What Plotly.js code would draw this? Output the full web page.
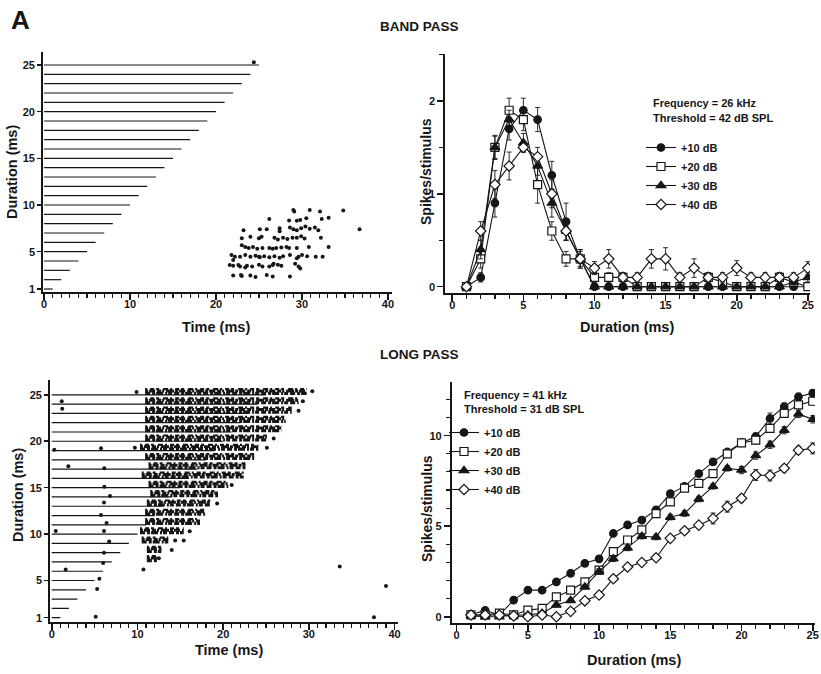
<!DOCTYPE html>
<html>
<head>
<meta charset="utf-8">
<script src="https://cdn.plot.ly/plotly-3.0.1.min.js"></script>
<style>html,body{margin:0;padding:0;background:#fff}#chart{width:821px;height:674px}</style>
</head>
<body>
<div id="chart"></div>
<script>
// ---------- DATA ----------
const durations = [1,2,3,4,5,6,7,8,9,10,11,12,13,14,15,16,17,18,19,20,21,22,23,24,25];
const rasterYTicks = [1,5,10,15,20,25];
const rasterXTicks = [0,10,20,30,40];
const tuningXTicks = [0,5,10,15,20,25];
const bandYTicks = [0,1,2];
const longYTicks = [0,5,10];
const seriesNames = ['+10 dB','+20 dB','+30 dB','+40 dB'];

// Band pass raster (spike time ms, duration row)
const bpSpikeT = [29.0,29.1,30.9,32.1,34.8,
  33.1,32.3,30.5,29.8,29.4,28.5,26.2,
  36.7,27.4,27.4,28.6,29.0,29.4,29.9,30.4,30.9,31.5,31.9,25.9,25.1,23.2,
  23.0,25.0,25.3,26.8,27.2,27.8,28.3,28.9,29.4,29.9,30.3,32.2,24.0,
  23.0,23.4,23.8,24.8,25.4,26.2,26.6,27.0,27.6,28.2,28.5,29.4,30.8,33.1,24.3,
  21.8,22.2,22.8,23.4,24.0,24.6,25.0,25.6,26.2,26.8,27.4,27.8,28.6,29.6,30.0,30.6,31.6,32.4,22.0,29.4,25.1,
  21.6,22.6,22.8,23.6,24.2,25.0,25.4,26.2,26.6,27.2,27.6,29.6,29.8,22.0,23.4,26.7,29.2,
  22.0,23.0,24.0,24.6,25.9,26.6,28.6,22.9,
  24.4];
const bpSpikeD = [9.47,9.3,9.47,9.3,9.4,
  8.64,8.5,8.57,8.4,8.3,8.35,8.5,
  7.4,7.5,7.2,7.6,7.4,7.3,7.5,7.7,7.45,7.6,7.3,7.4,7.4,7.3,
  6.43,6.43,6.6,6.5,6.3,6.5,6.35,6.5,6.5,6.65,6.4,6.5,6.6,
  5.7,5.5,5.4,5.3,5.4,5.4,5.3,5.4,5.45,5.5,5.4,5.4,5.5,5.5,5.5,
  4.64,4.45,4.45,4.64,4.45,4.55,4.45,4.5,4.4,4.5,4.35,4.5,4.64,4.45,4.64,4.5,4.45,4.45,4.1,4.3,4.4,
  3.57,3.57,3.4,3.5,3.4,3.6,3.4,3.4,3.57,3.6,3.5,3.4,3.2,3.5,3.3,3.7,3.7,
  2.45,2.4,2.45,2.3,2.5,2.35,2.35,2.5,
  25.3];

// Long pass raster: dense response bands per duration (start/end ms)
const lpBandDur   = [7,8,9,10,11,12,13,14,15,16,17,18,19,20,21,22,23,24,25];
const lpBandStart = [11.1,11.1,10.5,10.3,10.9,10.9,11.1,11.5,11.3,10.5,11.3,10.9,10.3,10.9,10.9,10.9,10.9,10.9,10.9];
const lpBandEnd   = [12.3,12.8,13.6,15.4,17.3,17.9,18.5,19.4,20.6,22.4,22.6,23.7,24.1,25.1,26.8,27.3,28.0,28.8,29.75];
// Long pass raster: isolated spikes
const lpSpikeT = [9.9,30.4,29.3,28.8,25.9,25.1,9.7,21.0,19.3,16.1,14.4,15.4,14.0,10.7,12.5,
  1.17,1.23,0.3,5.75,1.94,6.14,6.14,6.8,6.1,5.75,6.4,0.47,6.1,6.7,6.1,6.0,1.63,5.56,5.3,5.13,33.6,39.0,37.6];
const lpSpikeD = [25.3,25.4,24.3,23.3,20.3,19.3,19.3,15.3,13.3,10.3,9.3,9.3,8.3,6.2,7.4,
  24.3,23.5,19.1,19.25,17.3,17.1,15.1,14.1,13.4,12.07,11.2,10.34,10.34,9.2,8.0,6.9,6.2,5.2,4.1,1.1,6.5,4.4,1.05];

// Band pass tuning (spikes/stimulus)
const bp10 = [0,0.1,0.9,1.7,1.9,1.8,1.2,0.7,0.3,0,0,0,0,0,0,0,0,0,0,0,0,0,0,0,0];
const bp20 = [0,0.3,1.5,1.9,1.8,1.1,0.6,0.3,0.3,0.1,0.1,0.1,0,0,0,0,0,0.1,0.05,0,0,0,0.1,0.05,0];
const bp30 = [0,0.4,1.5,1.8,1.55,1.3,0.9,0.6,0.3,0,0,0,0,0,0,0,0,0,0,0,0,0,0,0.05,0.1];
const bp40 = [0,0.6,1.1,1.3,1.5,1.4,1.0,0.6,0.3,0.2,0.3,0.1,0.1,0.3,0.3,0.1,0.2,0.1,0.1,0.2,0.1,0.1,0.1,0.1,0.2];
const bp10Err = [0,0.05,0.15,0.12,0.13,0.13,0.15,0.2,0.1,0,0,0,0,0,0,0,0,0,0,0,0,0,0,0,0];
const bp20Err = [0,0.1,0.12,0.13,0.12,0.2,0.1,0.08,0.05,0.05,0.05,0.05,0.03,0.03,0.03,0.03,0.03,0.05,0.05,0.03,0.03,0.03,0.05,0.05,0.03];
const bp30Err = [0,0.1,0.13,0.1,0.1,0.1,0.15,0.1,0.08,0.02,0.02,0.02,0.02,0.02,0.02,0.02,0.02,0.02,0.02,0.02,0.02,0.02,0.02,0.03,0.05];
const bp40Err = [0,0.1,0.15,0.15,0.05,0.1,0.15,0.1,0.1,0.07,0.1,0.05,0.05,0.1,0.12,0.05,0.1,0.05,0.05,0.08,0.05,0.05,0.05,0.05,0.07];

// Long pass tuning (spikes/stimulus)
const lp10 = [0.13,0.35,0.1,0.92,1.47,1.47,1.93,2.4,2.95,3.2,4.6,5.07,5.34,5.9,6.8,7.2,7.9,8.55,9.1,9.6,9.95,10.95,11.6,12.15,12.35];
const lp20 = [0.1,0.1,0.2,0.1,0.37,0.46,1.1,1.47,1.93,2.58,3.6,4.24,4.8,5.7,6.35,7.1,7.37,7.9,9.0,9.6,9.75,10.4,11.23,11.7,11.9];
const lp30 = [0.05,0,0,0.1,0.1,0.2,0.65,0.9,1.65,2.5,3.2,3.8,4.45,4.4,5.5,5.7,6.5,7.2,8.2,8.1,8.9,9.5,10.3,11.2,10.9];
const lp40 = [0.1,0.1,0.1,0.05,0.0,0.1,0.0,0.3,0.88,1.2,2.1,2.75,3.0,3.26,4.33,4.75,5.06,5.43,6.08,6.54,7.83,7.8,8.2,9.2,9.3];
const lp10Err = [0.1,0.1,0.1,0.1,0.1,0.1,0.1,0.1,0.1,0.15,0.15,0.15,0.15,0.15,0.15,0.15,0.15,0.15,0.15,0.2,0.2,0.3,0.2,0.2,0.2];
const lp20Err = [0.1,0.1,0.1,0.1,0.1,0.1,0.1,0.1,0.1,0.15,0.15,0.15,0.15,0.15,0.15,0.15,0.15,0.15,0.15,0.2,0.2,0.2,0.2,0.2,0.2];
const lp30Err = [0.1,0.1,0.1,0.1,0.1,0.1,0.1,0.1,0.1,0.15,0.15,0.15,0.15,0.15,0.15,0.15,0.15,0.15,0.15,0.2,0.2,0.2,0.2,0.2,0.2];
const lp40Err = [0.1,0.1,0.1,0.1,0.1,0.1,0.1,0.1,0.1,0.15,0.15,0.15,0.15,0.15,0.15,0.15,0.15,0.3,0.3,0.2,0.3,0.3,0.2,0.2,0.3];

// ---------- STYLE ----------
const INK = '#161616';
const FONT = 'Liberation Sans, Arial, Helvetica, sans-serif';
const W = 821, H = 674;
const px = v => v / W;
const py = v => 1 - v / H;

// stimulus lines (0 -> duration) for each duration row
function stimLines(xa, ya) {
  const x = [], y = [];
  durations.forEach(d => { x.push(0, d, null); y.push(d, d, null); });
  return {x, y, xaxis: xa, yaxis: ya, mode: 'lines', line: {color: INK, width: 1.2},
          showlegend: false, hoverinfo: 'skip'};
}
// interleaved sub-rows per band give the mottled raster texture
function bandLines(offset, width, dash) {
  const x = [], y = [];
  lpBandDur.forEach((d, i) => { x.push(lpBandStart[i], lpBandEnd[i], null); y.push(d + offset, d + offset, null); });
  return {x, y, xaxis: 'x3', yaxis: 'y3', mode: 'lines',
          line: {color: INK, width: width, dash: dash},
          showlegend: false, hoverinfo: 'skip'};
}
const symbols = [
  {symbol: 'circle', color: INK, size: 7.5},
  {symbol: 'square', color: '#fff', size: 8},
  {symbol: 'triangle-up', color: INK, size: 8.5},
  {symbol: 'diamond', color: '#fff', size: 8}
];
function series(vals, errs, i, xa, ya, legend) {
  const s = symbols[i];
  return {x: durations, y: vals, xaxis: xa, yaxis: ya, name: seriesNames[i], legend: legend,
    mode: 'lines+markers', line: {color: INK, width: 1.1},
    marker: {symbol: s.symbol, size: s.size, color: s.color, line: {color: INK, width: 1.2}},
    error_y: {type: 'data', array: errs, visible: true, color: INK, thickness: 0.9, width: 2.5}};
}

const traces = [
  stimLines('x', 'y'),
  {x: bpSpikeT, y: bpSpikeD, xaxis: 'x', yaxis: 'y', mode: 'markers',
   marker: {color: INK, size: 4}, showlegend: false, hoverinfo: 'skip'},
  stimLines('x3', 'y3'),
  bandLines(0.15, 3.2, '5px,2px,3px,1px,7px,2px,2px,1px,4px,2px'),
  bandLines(0.42, 3.0, '3px,1px,6px,2px,4px,1px,2px,2px,8px,1px'),
  bandLines(0.62, 2.2, '2px,3px,4px,2px,3px,4px,5px,2px'),
  {x: lpSpikeT, y: lpSpikeD, xaxis: 'x3', yaxis: 'y3', mode: 'markers',
   marker: {color: INK, size: 4}, showlegend: false, hoverinfo: 'skip'},
  series(bp10, bp10Err, 0, 'x2', 'y2', 'legend'),
  series(bp20, bp20Err, 1, 'x2', 'y2', 'legend'),
  series(bp30, bp30Err, 2, 'x2', 'y2', 'legend'),
  series(bp40, bp40Err, 3, 'x2', 'y2', 'legend'),
  series(lp10, lp10Err, 0, 'x4', 'y4', 'legend2'),
  series(lp20, lp20Err, 1, 'x4', 'y4', 'legend2'),
  series(lp30, lp30Err, 2, 'x4', 'y4', 'legend2'),
  series(lp40, lp40Err, 3, 'x4', 'y4', 'legend2')
];

const tickfont = {family: FONT, size: 11, color: INK, weight: 'bold'};
function ax(domain, range, extra, anchor) {
  return Object.assign({
    domain: domain, range: range, anchor: anchor, showgrid: false, zeroline: false,
    showline: true, linecolor: INK, linewidth: 1.8, ticks: 'outside', ticklen: 6,
    tickwidth: 1.6, tickcolor: INK, tickfont: tickfont, fixedrange: true
  }, extra);
}
function minor(step) {
  return {dtick: step, ticklen: 4, tickwidth: 1.2, tickcolor: INK, ticks: 'outside', showgrid: false};
}
const xOff = {ticklabelstandoff: -5};

const layout = {
  width: W, height: H, margin: {l: 0, r: 0, t: 0, b: 0},
  paper_bgcolor: '#fff', plot_bgcolor: 'rgba(0,0,0,0)',
  font: {family: FONT, color: INK},
  xaxis:  ax([px(43), px(392)], [-0.12, 40.47], Object.assign({tickvals: rasterXTicks, minor: minor(1)}, xOff), 'y'),
  yaxis:  ax([py(292), py(52)], [0.68, 26.39], {tickvals: rasterYTicks, ticklen: 4}, 'x'),
  xaxis2: ax([px(445), px(810)], [-0.51, 25.15], Object.assign({tickvals: tuningXTicks, minor: minor(1)}, xOff), 'y2'),
  yaxis2: ax([py(293), py(54)], [-0.068, 2.506], {tickvals: bandYTicks, minor: minor(0.5)}, 'x2'),
  xaxis3: ax([px(50), px(398)], [-0.2, 40.4], Object.assign({tickvals: rasterXTicks, minor: minor(1)}, xOff), 'y3'),
  yaxis3: ax([py(622.3), py(380)], [0.5, 26.6], {tickvals: rasterYTicks, ticklen: 4}, 'x3'),
  xaxis4: ax([px(451.7), px(815)], [-0.35, 25.16], Object.assign({tickvals: tuningXTicks, minor: minor(1)}, xOff), 'y4'),
  yaxis4: ax([py(623.3), py(381.7)], [-0.36, 12.98], {tickvals: longYTicks, minor: minor(1)}, 'x4'),
  legend: {x: px(641), y: py(133), xanchor: 'left', yanchor: 'top', bgcolor: 'rgba(0,0,0,0)',
           font: {family: FONT, size: 11, color: INK, weight: 'bold'}, tracegroupgap: 0},
  legend2: {x: px(444), y: py(418), xanchor: 'left', yanchor: 'top', bgcolor: 'rgba(0,0,0,0)',
           font: {family: FONT, size: 11, color: INK, weight: 'bold'}, tracegroupgap: 0},
  showlegend: true,
  annotations: []
};

function note(text, x, y, size, opts) {
  return Object.assign({text: text, x: px(x), y: py(y), xref: 'paper', yref: 'paper',
    showarrow: false, xanchor: 'center', yanchor: 'middle',
    font: {family: FONT, size: size, color: INK, weight: 'bold'}}, opts || {});
}
layout.annotations.push(
  note('A', 20, 20, 26),
  note('BAND PASS', 419, 27, 13.5),
  note('LONG PASS', 419, 354, 13.5),
  note('Duration (ms)', 12, 172, 14.5, {textangle: -90}),
  note('Time (ms)', 216, 327, 14.5),
  note('Spikes/stimulus', 426, 172, 14, {textangle: -90}),
  note('Duration (ms)', 627, 327, 14.5),
  note('Duration (ms)', 18, 495, 14.5, {textangle: -90}),
  note('Time (ms)', 229, 650, 14.5),
  note('Spikes/stimulus', 427, 508, 14, {textangle: -90}),
  note('Duration (ms)', 634, 660, 14.5),
  note('Frequency = 26 kHz', 651, 103, 11, {xanchor: 'left'}),
  note('Threshold = 42 dB SPL', 651, 118, 11, {xanchor: 'left'}),
  note('Frequency = 41 kHz', 462, 395, 11, {xanchor: 'left'}),
  note('Threshold = 31 dB SPL', 462, 409, 11, {xanchor: 'left'})
);

Plotly.newPlot('chart', traces, layout, {displayModeBar: false, staticPlot: true});
</script>
</body>
</html>
